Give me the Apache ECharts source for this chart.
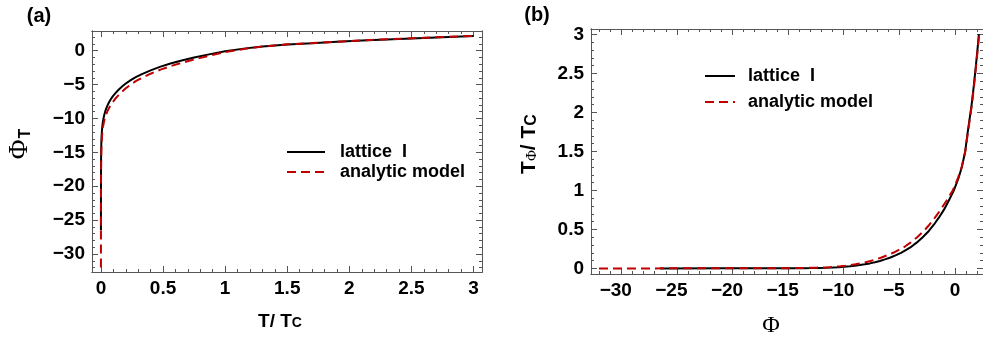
<!DOCTYPE html>
<html><head><meta charset="utf-8">
<script src="https://cdn.jsdelivr.net/npm/echarts@6/dist/echarts.min.js"></script>
<style>html,body{margin:0;padding:0;background:#fff}#c{width:983px;height:340px}</style>
</head><body><div id="c"></div>
<script>
// ---- data (T/Tc, Phi) ----
const T_lattice   = [0, 0.0002, 0.0006, 0.0012, 0.002, 0.003, 0.0045, 0.0065, 0.009, 0.012, 0.016, 0.021, 0.027, 0.034, 0.042, 0.052, 0.064, 0.078, 0.095, 0.115, 0.14, 0.17, 0.2, 0.24, 0.28, 0.33, 0.4, 0.48, 0.56, 0.65, 0.75, 0.87, 1.0, 1.15, 1.3, 1.5, 1.7, 1.9, 2.1, 2.35, 2.6, 2.8, 3.0];
const Phi_lattice = [-26.5, -21, -18, -16, -14.6, -13.7, -12.9, -12.2, -11.6, -11.0, -10.45, -9.95, -9.45, -9.0, -8.55, -8.1, -7.65, -7.2, -6.75, -6.3, -5.8, -5.3, -4.85, -4.35, -3.9, -3.45, -2.9, -2.35, -1.9, -1.45, -1.0, -0.55, -0.1, 0.3, 0.62, 0.92, 1.1, 1.3, 1.5, 1.7, 1.88, 2.02, 2.15];
const T_analytic   = [0, 0.0002, 0.0006, 0.0012, 0.002, 0.003, 0.0045, 0.0065, 0.009, 0.012, 0.016, 0.021, 0.027, 0.034, 0.042, 0.052, 0.064, 0.078, 0.095, 0.115, 0.14, 0.17, 0.2, 0.24, 0.28, 0.33, 0.4, 0.48, 0.56, 0.65, 0.75, 0.87, 1.0, 1.15, 1.3, 1.5, 1.7, 1.9, 2.1, 2.35, 2.6, 2.8, 3.0];
const Phi_analytic = [-32, -24, -20, -17.5, -16, -14.9, -14.0, -13.2, -12.5, -11.9, -11.3, -10.8, -10.3, -9.85, -9.4, -8.95, -8.5, -8.05, -7.6, -7.1, -6.6, -6.05, -5.55, -5.0, -4.5, -4.0, -3.4, -2.8, -2.3, -1.8, -1.3, -0.75, -0.2, 0.25, 0.6, 0.93, 1.12, 1.32, 1.52, 1.72, 1.9, 2.04, 2.17];
const seriesNames = ['lattice  I', 'analytic model'];
// tick labels
const tTicks   = [0, 0.5, 1, 1.5, 2, 2.5, 3];
const phiTicks = [-30, -25, -20, -15, -10, -5, 0];

const tRange = [-0.072, 3.068];
const phiRangeA = [-32.65, 2.9];
const phiRangeB = [-32.72, 2.52];
const tRangeB = [-0.072, 3.07];

function minorList(lo, hi, step, majors) {
  const out = [];
  const s = Math.ceil(lo / step - 1e-9), e = Math.floor(hi / step + 1e-9);
  for (let k = s; k <= e; k++) {
    const v = +(k * step).toFixed(6);
    if (!majors.some(m => Math.abs(m - v) < 1e-9)) out.push(v);
  }
  return out;
}
const FRAME = '#555';
const FS = 19;
const LBL = {fontFamily: 'Liberation Sans, Arial, sans-serif', fontWeight: 'bold', fontSize: FS, color: '#000'};

function fmtPlain(v) { return v < 0 ? '\u2212' + Math.abs(v) : String(v); }
function fmtHang(v) { return v < 0 ? '{m|\u2212}{d|' + Math.abs(v) + '}{g|}' : '{d|' + v + '}'; }

function axis(gi, pos, range, majors, minors, opts) {
  const isMinor = opts.minor;
  return {
    type: 'value', gridIndex: gi, position: pos, min: range[0], max: range[1],
    axisLine: {show: true, onZero: false, lineStyle: {color: FRAME, width: 1}},
    axisTick: {show: true, inside: true, length: isMinor ? 3 : 6, customValues: isMinor ? minors : majors, lineStyle: {color: FRAME, width: 1}},
    axisLabel: {show: !!opts.labels, customValues: majors, margin: 7, ...LBL,
      formatter: opts.hang ? fmtHang : fmtPlain,
      rich: opts.hang ? {m: {...LBL}, d: {...LBL}, g: {width: 11, fontSize: FS}} : undefined},
    splitLine: {show: false}
  };
}

const gA = {left: 92, top: 31, width: 390, height: 241};
const gB = {left: 591, top: 29, width: 394, height: 245};

const tMinorA = minorList(tRange[0], tRange[1], 0.1, tTicks);
const phiMinorA = minorList(phiRangeA[0], phiRangeA[1], 1, phiTicks);
const phiMinorB = minorList(phiRangeB[0], phiRangeB[1], 1, phiTicks);
const tMinorB = minorList(tRangeB[0], tRangeB[1], 0.1, tTicks);

const grids = [gA, gA, gB, gB].map(g => ({...g, containLabel: false, show: false}));

const xAxes = [
  axis(0, 'bottom', tRange, tTicks, tMinorA, {labels: true}),
  axis(0, 'top', tRange, tTicks, tMinorA, {}),
  axis(1, 'bottom', tRange, tTicks, tMinorA, {minor: true}),
  axis(1, 'top', tRange, tTicks, tMinorA, {minor: true}),
  axis(2, 'bottom', phiRangeB, phiTicks, phiMinorB, {labels: true, hang: true}),
  axis(2, 'top', phiRangeB, phiTicks, phiMinorB, {}),
  axis(3, 'bottom', phiRangeB, phiTicks, phiMinorB, {minor: true}),
  axis(3, 'top', phiRangeB, phiTicks, phiMinorB, {minor: true})
];
const yAxes = [
  axis(0, 'left', phiRangeA, phiTicks, phiMinorA, {labels: true}),
  axis(0, 'right', phiRangeA, phiTicks, phiMinorA, {}),
  axis(1, 'left', phiRangeA, phiTicks, phiMinorA, {minor: true}),
  axis(1, 'right', phiRangeA, phiTicks, phiMinorA, {minor: true}),
  axis(2, 'left', tRangeB, tTicks, tMinorB, {labels: true}),
  axis(2, 'right', tRangeB, tTicks, tMinorB, {}),
  axis(3, 'left', tRangeB, tTicks, tMinorB, {minor: true}),
  axis(3, 'right', tRangeB, tTicks, tMinorB, {minor: true})
];

const RED = '#c00000';
const lineBlack = {color: '#000', width: 2};
const lineRed = {color: RED, width: 2, type: [9, 5]};

function pairs(xs, ys) { return xs.map((x, i) => [x, ys[i]]); }
const common = {type: 'line', symbol: 'none', showSymbol: false, smooth: false};

const series = [
  {...common, name: seriesNames[0], xAxisIndex: 0, yAxisIndex: 0, z: 3,
   data: pairs(T_lattice, Phi_lattice), lineStyle: lineBlack, itemStyle: {color: '#000'}},
  {...common, name: seriesNames[1], xAxisIndex: 0, yAxisIndex: 0, z: 4,
   data: pairs(T_analytic, Phi_analytic), lineStyle: lineRed, itemStyle: {color: RED}},
  {...common, name: seriesNames[0], xAxisIndex: 4, yAxisIndex: 4, z: 3,
   data: pairs(Phi_lattice, T_lattice), lineStyle: lineBlack, itemStyle: {color: '#000'}},
  {...common, name: seriesNames[1], xAxisIndex: 4, yAxisIndex: 4, z: 4,
   data: pairs(Phi_analytic, T_analytic), lineStyle: lineRed, itemStyle: {color: RED}}
];

const legTxt = {fontFamily: 'Liberation Sans, Arial, sans-serif', fontWeight: 'bold', fontSize: 18, color: '#000', padding: [0, 0, 0, 10], lineHeight: 18};
const legItem = {color: 'transparent', borderColor: 'transparent', borderWidth: 0};

const chart = echarts.init(document.getElementById('c'), null, {renderer: 'canvas'});
chart.setOption({
  animation: false,
  backgroundColor: '#fff',
  grid: grids,
  xAxis: xAxes,
  yAxis: yAxes,
  series: series,
  legend: [
    {data: seriesNames, orient: 'vertical', left: 281, top: 138, itemWidth: 38, itemHeight: 14, itemGap: 2,
     textStyle: legTxt, itemStyle: legItem, selectedMode: false},
    {data: seriesNames, orient: 'vertical', left: 699, top: 62, itemWidth: 30, itemHeight: 14, itemGap: 8,
     textStyle: {...legTxt, padding: [0, 0, 0, 8]}, itemStyle: legItem, selectedMode: false}
  ],
  graphic: [
    {type: 'text', x: 39, y: 16, style: {text: '(a)', font: 'bold 20px "Liberation Sans", Arial', fill: '#000', align: 'center', verticalAlign: 'middle'}},
    {type: 'text', x: 537, y: 15, style: {text: '(b)', font: 'bold 20px "Liberation Sans", Arial', fill: '#000', align: 'center', verticalAlign: 'middle'}},
    {type: 'text', x: 20, y: 144, rotation: Math.PI / 2,
     style: {text: '{p|\u03A6}{s|T}', align: 'center', verticalAlign: 'middle', fill: '#000',
       rich: {p: {fontFamily: 'Liberation Serif, serif', fontSize: 27, fill: '#000', verticalAlign: 'bottom'},
              s: {fontFamily: 'Liberation Sans, Arial', fontWeight: 'bold', fontSize: 16, fill: '#000', padding: [10, 0, 0, 1], verticalAlign: 'bottom'}}}},
    {type: 'text', x: 280, y: 322,
     style: {text: '{a|T/ T}{c|C}', align: 'center', verticalAlign: 'middle', fill: '#000',
       rich: {a: {fontFamily: 'Liberation Sans, Arial', fontWeight: 'bold', fontSize: 19, fill: '#000', verticalAlign: 'bottom'},
              c: {fontFamily: 'Liberation Sans, Arial', fontWeight: 'bold', fontSize: 14, fill: '#000', verticalAlign: 'bottom', padding: [0, 0, 1, 0]}}}},
    {type: 'text', x: 771, y: 326,
     style: {text: '\u03A6', font: '24px "Liberation Serif", serif', fill: '#000', align: 'center', verticalAlign: 'middle'}},
    {type: 'text', x: 528, y: 144, rotation: Math.PI / 2,
     style: {text: '{a|T}{s|\u03A6}{a|/ T}{c|C}', align: 'center', verticalAlign: 'middle', fill: '#000',
       rich: {a: {fontFamily: 'Liberation Sans, Arial', fontWeight: 'bold', fontSize: 21, fill: '#000', verticalAlign: 'bottom'},
              s: {fontFamily: 'Liberation Serif, serif', fontSize: 15, fill: '#000', verticalAlign: 'bottom', padding: [7, 0, 0, 0]},
              c: {fontFamily: 'Liberation Sans, Arial', fontWeight: 'bold', fontSize: 16, fill: '#000', verticalAlign: 'bottom', padding: [7, 0, 0, 0]}}}}
  ]
});
</script>
</body></html>
